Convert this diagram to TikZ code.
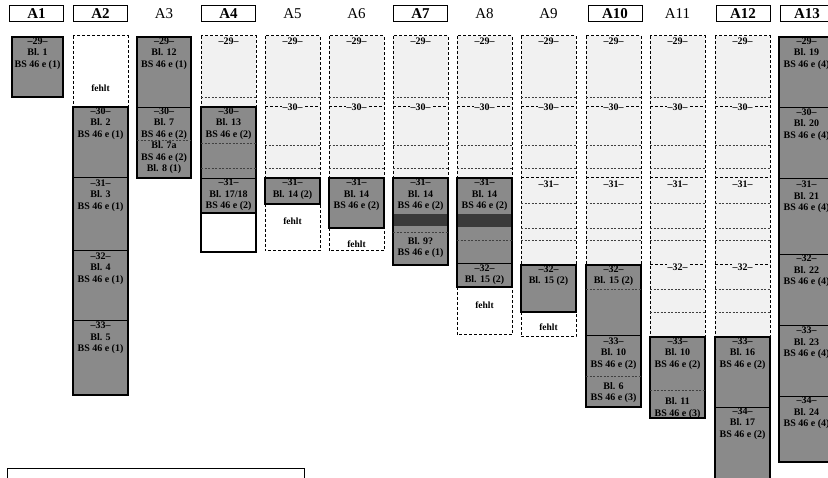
\documentclass[tikz,border=0pt]{standalone}
\usepackage{fontspec}
\setmainfont{Liberation Serif}
\usepackage{xcolor}
\definecolor{cLeaf}{HTML}{8A8A8A}
\definecolor{cDark}{HTML}{3A3A3A}
\definecolor{cTrace}{HTML}{F1F1F1}
\usepackage{tikz}
\usetikzlibrary{positioning}
\tikzset{
  leaf-kept/.style={draw=black,line width=1.2pt,fill=cLeaf},
  leaf-blank/.style={draw=black,line width=1.2pt,fill=white},
  leaf-lost/.style={draw=black,line width=1pt,dash pattern=on 3pt off 2pt,fill=cTrace},
  leaf-gap/.style={leaf-lost,fill=white},
  line-sec/.style={draw=black,line width=0.9pt},
  line-sec-lost/.style={draw=black,line width=1pt,dash pattern=on 3pt off 2pt},
  line-sub/.style={draw=black!75,line width=0.5pt,dash pattern=on 2pt off 1.5pt},
  leaf-text/.style={anchor=north,align=center,inner sep=0pt,
    font=\bfseries\fontsize{10}{11.5}\selectfont},
  num-lost/.style={fill=cTrace,inner sep=1pt,font=\bfseries\fontsize{10}{11}\selectfont},
  gap-text/.style={inner sep=0pt,font=\bfseries\fontsize{9.5}{11}\selectfont},
  head-box/.style={draw=black,line width=1pt,minimum width=54pt,minimum height=16pt,
    inner sep=1pt,font=\bfseries\fontsize{15}{15}\selectfont},
  head-free/.style={minimum height=16pt,inner sep=1pt,font=\fontsize{15}{15}\selectfont},
}
\begin{document}
\begin{tikzpicture}[x=1pt,y=-1pt]
  \useasboundingbox (0,0) rectangle (828,478);
  % Lagen-Köpfe
  \foreach \n/\c in {1/36.5,2/100.5,4/228.5,7/420.5,10/615,12/743,13/807}
    \node[head-box] (head-\n) at (\c,14) {A\n};
  \foreach \n/\c in {3/164,5/292.5,6/356.5,8/484.5,9/548.5,11/677.5}
    \node[head-free] (head-\n) at (\c,14) {A\n};

  % verlorene Blätter (gestrichelt)
  \foreach \x/\yb in {201/107,265/178,329/178,393/178,457/178,521/265,586/265,650/337,715/337}{
    \draw[leaf-lost] (\x,36) rectangle (\x+55,\yb);
    \begin{scope}
      \clip (\x,36) rectangle (\x+55,\yb);
      \foreach \y in {97,145,168,203,228,240,289,312}
        \draw[line-sub] (\x,\y) -- (\x+55,\y);
      \foreach \y in {107,178,265}
        \draw[line-sec-lost] (\x,\y) -- (\x+55,\y);
    \end{scope}
    \node[num-lost] (lost29-\x) at (\x+27.5,41) {–29–};
  }
  \foreach \x in {265,329,393,457,521,586,650,715}
    \node[num-lost] (lost30-\x) at (\x+27.5,107) {–30–};
  \foreach \x in {521,586,650,715}
    \node[num-lost] (lost31-\x) at (\x+27.5,184) {–31–};
  \foreach \x in {650,715}
    \node[num-lost] (lost32-\x) at (\x+27.5,267) {–32–};

  % fehlende Blätter
  \draw[leaf-gap] (73,36) rectangle (128,107);
  \draw[leaf-gap] (265,204) rectangle (320,251);
  \draw[leaf-gap] (329,228) rectangle (384,251);
  \draw[leaf-gap] (457,287) rectangle (512,335);
  \draw[leaf-gap] (521,312) rectangle (576,337);
  \node[gap-text] (gap-a2) at (100.5,88)  {fehlt};
  \node[gap-text] (gap-a5) at (292.5,221) {fehlt};
  \node[gap-text] (gap-a6) at (356.5,244) {fehlt};
  \node[gap-text] (gap-a8) at (484.5,305) {fehlt};
  \node[gap-text] (gap-a9) at (548.5,327) {fehlt};

  % erhaltene Blätter
  \draw[leaf-kept] (12,37) rectangle (63,97);
  \draw[leaf-kept] (73,107) rectangle (128,395);
  \draw[leaf-kept] (137,37) rectangle (191,178);
  \draw[leaf-kept] (201,107) rectangle (256,213);
  \draw[leaf-blank] (201,213) rectangle (256,252);
  \draw[leaf-kept] (265,178) rectangle (320,204);
  \draw[leaf-kept] (329,178) rectangle (384,228);
  \draw[leaf-kept] (393,178) rectangle (448,265);
  \draw[leaf-kept] (457,178) rectangle (512,287);
  \draw[leaf-kept] (521,265) rectangle (576,312);
  \draw[leaf-kept] (586,265) rectangle (641,407);
  \draw[leaf-kept] (650,337) rectangle (705,418);
  \draw[leaf-kept] (715,337) rectangle (770,490);
  \draw[leaf-kept] (779,37) rectangle (834,462);
  \fill[cDark] (393.6,214) rectangle (447.4,226);
  \fill[cDark] (457.6,214) rectangle (511.4,227);

  % Lagengrenzen in den erhaltenen Blättern
  \foreach \y in {177,250,320} \draw[line-sec] (73,\y) -- (128,\y);
  \draw[line-sec] (137,107) -- (191,107);
  \draw[line-sub] (137,140) -- (191,140);
  \draw[line-sub] (201,143) -- (256,143);
  \draw[line-sub] (201,168) -- (256,168);
  \draw[line-sec] (201,178) -- (256,178);
  \draw[line-sub] (393,232) -- (448,232);
  \draw[line-sub] (457,240) -- (512,240);
  \draw[line-sec] (457,263) -- (512,263);
  \draw[line-sub] (586,289) -- (641,289);
  \draw[line-sec] (586,335) -- (641,335);
  \draw[line-sub] (586,376) -- (641,376);
  \draw[line-sub] (650,390) -- (705,390);
  \draw[line-sec] (715,407) -- (770,407);
  \foreach \y in {107,178,254,325,396} \draw[line-sec] (779,\y) -- (834,\y);

  % Beschriftung
  \node[leaf-text] (a1-29)  at (37.5,37.5)  {–29–\\Bl. 1\\BS 46 e (1)};
  \node[leaf-text] (a2-30)  at (100.5,107.5) {–30–\\Bl. 2\\BS 46 e (1)};
  \node[leaf-text] (a2-31)  at (100.5,179.5) {–31–\\Bl. 3\\BS 46 e (1)};
  \node[leaf-text] (a2-32)  at (100.5,252.5) {–32–\\Bl. 4\\BS 46 e (1)};
  \node[leaf-text] (a2-33)  at (100.5,322)   {–33–\\Bl. 5\\BS 46 e (1)};
  \node[leaf-text] (a3-29)  at (164,37.5)    {–29–\\Bl. 12\\BS 46 e (1)};
  \node[leaf-text] (a3-30)  at (164,107.5)   {–30–\\Bl. 7\\BS 46 e (2)\\Bl. 7a\\BS 46 e (2)\\Bl. 8 (1)};
  \node[leaf-text] (a4-30)  at (228.5,107.5) {–30–\\Bl. 13\\BS 46 e (2)};
  \node[leaf-text] (a4-31)  at (228.5,179)   {–31–\\Bl. 17/18\\BS 46 e (2)};
  \node[leaf-text] (a5-31)  at (292.5,179)   {–31–\\Bl. 14 (2)};
  \node[leaf-text] (a6-31)  at (356.5,179)   {–31–\\Bl. 14\\BS 46 e (2)};
  \node[leaf-text] (a7-31)  at (420.5,179)   {–31–\\Bl. 14\\BS 46 e (2)};
  \node[leaf-text] (a7-31b) at (420.5,237)   {Bl. 9?\\BS 46 e (1)};
  \node[leaf-text] (a8-31)  at (484.5,179)   {–31–\\Bl. 14\\BS 46 e (2)};
  \node[leaf-text] (a8-32)  at (484.5,264.5) {–32–\\Bl. 15 (2)};
  \node[leaf-text] (a9-32)  at (548.5,265.5) {–32–\\Bl. 15 (2)};
  \node[leaf-text] (a10-32) at (613.5,265.5) {–32–\\Bl. 15 (2)};
  \node[leaf-text] (a10-33) at (613.5,337.5) {–33–\\Bl. 10\\BS 46 e (2)};
  \node[leaf-text] (a10-33b) at (613.5,382)  {Bl. 6\\BS 46 e (3)};
  \node[leaf-text] (a11-33) at (677.5,337.5) {–33–\\Bl. 10\\BS 46 e (2)};
  \node[leaf-text] (a11-33b) at (677.5,397.5) {Bl. 11\\BS 46 e (3)};
  \node[leaf-text] (a12-33) at (742.5,337.5) {–33–\\Bl. 16\\BS 46 e (2)};
  \node[leaf-text] (a12-34) at (742.5,407.5) {–34–\\Bl. 17\\BS 46 e (2)};
  \node[leaf-text] (a13-29) at (806.5,37.5)  {–29–\\Bl. 19\\BS 46 e (4)};
  \node[leaf-text] (a13-30) at (806.5,108.5) {–30–\\Bl. 20\\BS 46 e (4)};
  \node[leaf-text] (a13-31) at (806.5,181)   {–31–\\Bl. 21\\BS 46 e (4)};
  \node[leaf-text] (a13-32) at (806.5,255)   {–32–\\Bl. 22\\BS 46 e (4)};
  \node[leaf-text] (a13-33) at (806.5,327)   {–33–\\Bl. 23\\BS 46 e (4)};
  \node[leaf-text] (a13-34) at (806.5,397)   {–34–\\Bl. 24\\BS 46 e (4)};

  % Legende (unten abgeschnitten)
  \node[draw=black,line width=0.9pt,anchor=north west,minimum width=297pt,
    minimum height=30pt,inner sep=0pt] (legend) at (7,468) {};
\end{tikzpicture}
\end{document}
